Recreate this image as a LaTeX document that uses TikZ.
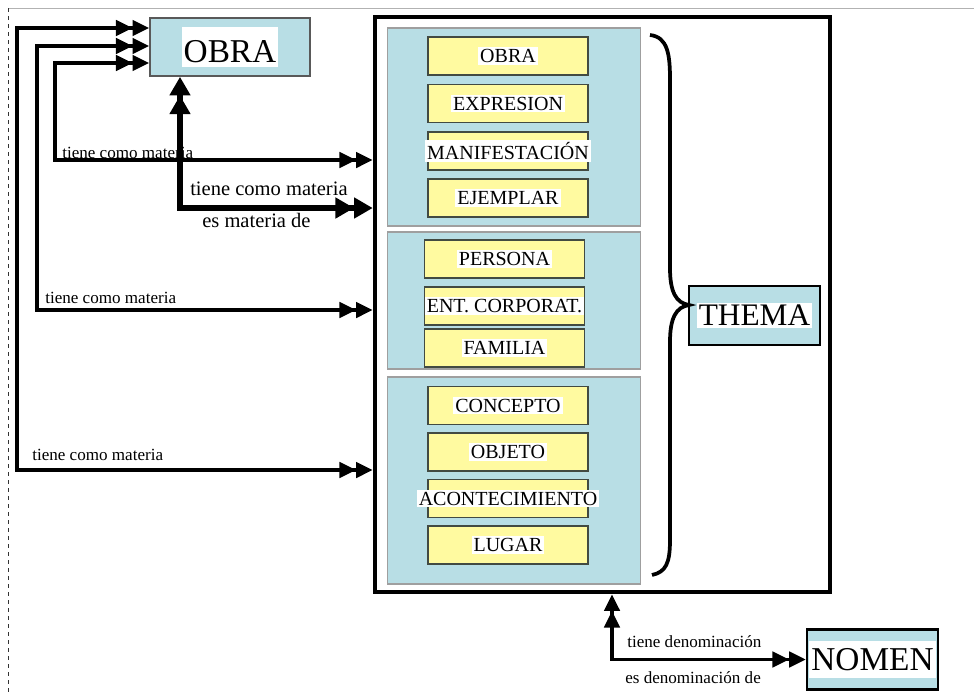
\documentclass[tikz,border=0pt]{standalone}
\usepackage{fontspec}
\setmainfont{Liberation Serif}
\usetikzlibrary{arrows.meta}
\definecolor{panelblue}{RGB}{184,222,229}
\definecolor{boxyellow}{RGB}{255,250,160}
\definecolor{boxedge}{RGB}{66,74,66}
\setlength{\fboxsep}{1.5pt}
\newcommand{\wt}[1]{\makebox[0pt]{\colorbox{white}{#1}}}
\tikzset{panel/.style = {draw = gray!75, line width = 1pt, fill = panelblue, minimum width = 190pt, inner sep = 0}}
\tikzset{entity/.style = {draw = boxedge, line width = 1.4pt, fill = boxyellow, minimum width = 120pt, minimum height = 28.5pt, inner sep = 0, font = \fontsize{15}{18}\selectfont}}
\tikzset{title/.style = {draw, line width = 1.8pt, fill = panelblue, inner sep = 0, font = \fontsize{25}{30}\selectfont}}
\tikzset{rel/.style = {inner sep = 0, anchor = base west, font = \fontsize{12.8}{15}\selectfont}}
\tikzset{link/.style = {line width = 2.7pt, >={Triangle[length=12.5pt, width=11.5pt, sep=0pt]}, <<->>}}
\tikzset{biglink/.style = {line width = 3.8pt, >={Triangle[length=14pt, width=15pt, sep=0pt]}, <<->>}}

\begin{document}
\begin{tikzpicture}[x=0.75pt, y=-0.75pt]
    \useasboundingbox (0,0) rectangle (974,693);
    \draw [gray!60, line width=0.75pt] (8,8) -- (974,8);
    \draw [gray!40!black, dashed, line width=0.6pt] (8,8) -- (8,693);

    \node [title, draw = gray!70!black, line width = 1.2pt, minimum width = 120pt, minimum height = 43.5pt] (obra) at (230,47) {\wt{\rule[-2pt]{0pt}{27pt}OBRA}};

    \node [draw, line width = 3.4pt, minimum width = 341.25pt, minimum height = 431.25pt] (frame) at (602.5,304.5) {};

    \node [panel, minimum height = 148.5pt] (works) at (514,127) {};
    \node [panel, minimum height = 102.75pt] (agents) at (514,300.5) {};
    \node [panel, minimum height = 155.25pt] (subjects) at (514,480.5) {};

    \node [entity] (obra2) at (508,56) {\wt{OBRA}};
    \node [entity] (expr) at (508,103.5) {\wt{EXPRESION}};
    \node [entity] (manif) at (508,151) {\wt{MANIFESTACIÓN}};
    \node [entity] (ejem) at (508,198) {\wt{EJEMPLAR}};

    \node [entity] (pers) at (504.5,259) {\wt{PERSONA}};
    \node [entity] (corp) at (504.5,306) {\wt{ENT. CORPORAT.}};
    \node [entity] (fam) at (504.5,348) {\wt{FAMILIA}};

    \node [entity] (conc) at (508,405.5) {\wt{CONCEPTO}};
    \node [entity] (obj) at (508,452) {\wt{OBJETO}};
    \node [entity] (acont) at (508,498.5) {\wt{ACONTECIMIENTO}};
    \node [entity] (lugar) at (508,545) {\wt{LUGAR}};

    \node [title, font = \fontsize{23.5}{28}\selectfont, minimum width = 98.25pt, minimum height = 44.25pt] (thema) at (754.5,315.5) {\wt{THEMA}};
    \node [title, minimum width = 98.25pt, minimum height = 45pt] (nomen) at (872.5,659.5) {\wt{\rule[-4pt]{0pt}{25pt}NOMEN}};

    \draw [line width=2.8pt] (650,35) .. controls (668,37) and (670,55) .. (670,80) -- (670,268)
        .. controls (670,292) and (676,303) .. (689,305)
        .. controls (676,307) and (670,318) .. (670,342) -- (670,540)
        .. controls (670,563) and (666,572) .. (652,575);

    \draw [link] ([shift={(0,-19)}]obra.west) -| (17,470) -- (frame.west |- 0,470);
    \draw [link] ([shift={(0,-1)}]obra.west) -| (37,310) -- (frame.west |- 0,310);
    \draw [link] ([shift={(0,16)}]obra.west) -| (55,160) -- (frame.west |- 0,160);
    \draw [biglink] (180,0 |- obra.south) |- (frame.west |- 0,208);
    \draw [link] (612,0 |- frame.south) |- (nomen.west);

    \node [rel] (l1) at (32,460) {tiene como materia};
    \node [rel] (l2) at (45,303) {tiene como materia};
    \node [rel] (l3) at (62,158) {tiene como materia};
    \node [rel, font = \fontsize{15.4}{18}\selectfont] (l4) at (190,195) {tiene como materia};
    \node [rel, font = \fontsize{15.4}{18}\selectfont] (l5) at (202,227) {es materia de};
    \node [rel] (l6) at (627,647) {tiene denominación};
    \node [rel] (l7) at (625,683) {es denominación de};
\end{tikzpicture}
\end{document}
